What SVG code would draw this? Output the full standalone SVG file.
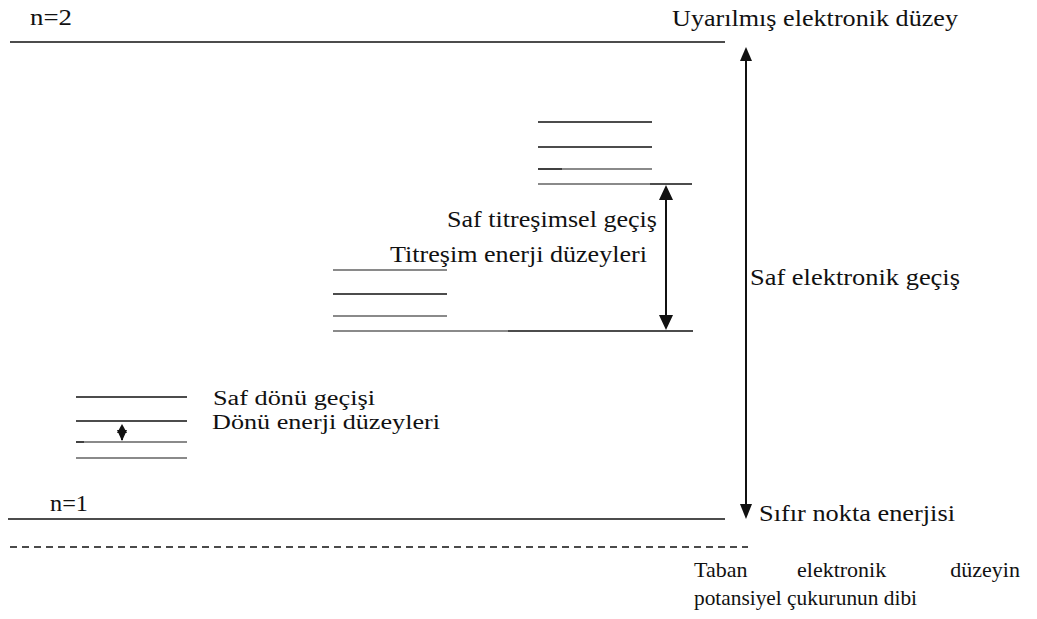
<svg xmlns="http://www.w3.org/2000/svg" width="1037" height="619" viewBox="0 0 1037 619">
<style>
.k{stroke:#111;stroke-width:1.6;fill:none}
.g{stroke:#8a8a8a;stroke-width:1.8;fill:none}
.ax{stroke:#111;stroke-width:2;fill:none}
.t{font-family:'Liberation Serif','Times New Roman',serif;font-size:24px;fill:#111}
.r{font-family:'Liberation Serif','Times New Roman',serif;font-size:20px;fill:#111}
.s{font-family:'Liberation Serif','Times New Roman',serif;font-size:22px;fill:#111}
</style>
<rect width="1037" height="619" fill="#fff"/>
<g id="n2-level">
<line class="k" x1="10" y1="42" x2="725" y2="42"/>
<text class="t" x="30" y="25" textLength="42" lengthAdjust="spacingAndGlyphs">n=2</text>
<text class="t" x="672" y="26" textLength="286" lengthAdjust="spacingAndGlyphs">Uyarılmış elektronik düzey</text>
</g>
<g id="vib-upper">
<line class="k" x1="538" y1="122" x2="652" y2="122"/>
<line class="k" x1="538" y1="147" x2="652" y2="147"/>
<line class="k" x1="538" y1="169" x2="562" y2="169"/>
<line class="g" x1="562" y1="169" x2="652" y2="169"/>
<line class="g" x1="538" y1="184" x2="650" y2="184"/>
<line class="k" x1="650" y1="184" x2="692" y2="184" stroke="#555"/>
</g>
<g id="vib-lower">
<line class="g" x1="333" y1="270" x2="447" y2="270"/>
<line class="k" x1="333" y1="294" x2="447" y2="294"/>
<line class="g" x1="333" y1="316" x2="447" y2="316"/>
<line class="g" x1="333" y1="331" x2="508" y2="331"/>
<line class="k" x1="508" y1="331" x2="693" y2="331"/>
<text class="t" x="447" y="227" textLength="210" lengthAdjust="spacingAndGlyphs">Saf titreşimsel geçiş</text>
<text class="t" x="390" y="262" textLength="257" lengthAdjust="spacingAndGlyphs">Titreşim enerji düzeyleri</text>
</g>
<g id="rot-levels">
<line class="k" x1="76" y1="397" x2="187" y2="397"/>
<line class="k" x1="76" y1="421" x2="187" y2="421"/>
<line class="k" x1="76" y1="442" x2="84" y2="442"/>
<line class="g" x1="84" y1="442" x2="187" y2="442"/>
<line class="g" x1="76" y1="458" x2="187" y2="458"/>
<text class="r" x="213" y="405" textLength="162" lengthAdjust="spacingAndGlyphs">Saf dönü geçişi</text>
<text class="r" x="212" y="429" textLength="228" lengthAdjust="spacingAndGlyphs">Dönü enerji düzeyleri</text>
</g>
<g id="n1-level">
<line class="k" x1="8" y1="519" x2="725" y2="519"/>
<text class="t" x="50" y="511" textLength="38" lengthAdjust="spacingAndGlyphs">n=1</text>
<text class="t" x="759" y="521" textLength="196" lengthAdjust="spacingAndGlyphs">Sıfır nokta enerjisi</text>
</g>
<g id="well-bottom">
<line x1="10" y1="547" x2="748" y2="547" stroke="#111" stroke-width="1.5" stroke-dasharray="7,5"/>
<text class="s" x="694" y="577">Taban</text>
<text class="s" x="797" y="577">elektronik</text>
<text class="s" x="1020" y="577" text-anchor="end">düzeyin</text>
<text class="s" x="694" y="605" textLength="223" lengthAdjust="spacingAndGlyphs">potansiyel çukurunun dibi</text>
</g>
<g id="connectors">
<line class="ax" x1="746" y1="60" x2="746" y2="505"/>
<polygon points="746,47 740,61 752,61" fill="#111"/>
<polygon points="746,519 740,504 752,504" fill="#111"/>
<text class="t" x="750" y="285" textLength="210" lengthAdjust="spacingAndGlyphs">Saf elektronik geçiş</text>
<line class="ax" x1="666" y1="198" x2="666" y2="317"/>
<polygon points="666,185 659,200 673,200" fill="#111"/>
<polygon points="666,330 659,315 673,315" fill="#111"/>
<line class="ax" x1="122" y1="426" x2="122" y2="440"/>
<polygon points="122,424 117,433 127,433" fill="#111"/>
<polygon points="122,441 117,430 127,430" fill="#111"/>
</g>
</svg>
